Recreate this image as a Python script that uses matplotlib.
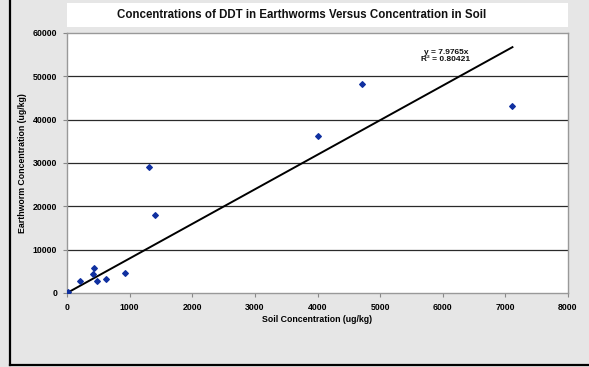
import matplotlib
matplotlib.use("Agg")
import matplotlib.pyplot as plt
from matplotlib.lines import Line2D
from matplotlib.patches import Rectangle

# Data
soil = [15, 208, 437, 420, 484, 623, 932, 1406, 1310, 4010, 4708, 7113]
worm = [150, 2850, 5860, 4400, 2700, 3240, 4700, 18100, 29100, 36200, 48200, 43100]
slope = 7.9765
r2 = 0.80421
trend_x = [0, 7113]
x_ticks = [0, 1000, 2000, 3000, 4000, 5000, 6000, 7000, 8000]
y_ticks = [0, 10000, 20000, 30000, 40000, 50000, 60000]

plt.rcParams['font.family'] = ['Liberation Sans', 'DejaVu Sans']

fig = plt.figure(figsize=(5.89, 3.67), dpi=100)
fig.patch.set_facecolor('#e6e6e6')

# black frame lines (left and bottom)
fig.add_artist(Line2D([9.5/589, 9.5/589], [2/367, 1.0], transform=fig.transFigure, color='black', lw=1.6))
fig.add_artist(Line2D([9.5/589, 1.0], [2/367, 2/367], transform=fig.transFigure, color='black', lw=1.6))

# title box
fig.add_artist(Rectangle((67/589, (367-27)/367), (568-67)/589, 24/367,
                         transform=fig.transFigure, facecolor='white', edgecolor='none'))
fig.text((118+486)/2/589, (367-15)/367, 'Concentrations of DDT in Earthworms Versus Concentration in Soil',
         ha='center', va='center', fontsize=8.3, fontweight='bold', color='#111111')

ax = fig.add_axes([67/589, (367-293)/367, (568-67)/589, (293-33)/367])
ax.set_facecolor('white')
ax.set_xlim(0, 8000)
ax.set_ylim(0, 60000)
ax.set_xticks(x_ticks)
ax.set_yticks(y_ticks)
ax.tick_params(labelsize=6.3, length=3, width=0.8, color='#888888', direction='out', pad=4)
for lab in ax.get_xticklabels() + ax.get_yticklabels():
    lab.set_fontweight('bold')
for s in ax.spines.values():
    s.set_color('#999999')
    s.set_linewidth(1.0)

for yv in y_ticks[1:-1]:
    ax.axhline(yv, color='#2a2a2a', lw=0.9, zorder=1)

ax.plot(trend_x, [slope * v for v in trend_x], color='black', lw=1.4, zorder=2)
ax.scatter(soil, worm, marker='D', s=8, color='#1030a0', zorder=3)

ax.text(6050, 54700, 'y = 7.9765x\nR² = 0.80421', ha='center', va='center',
        fontsize=6, fontweight='bold', color='#111111', linespacing=1.1)

ax.set_xlabel('Soil Concentration (ug/kg)', fontsize=6.3, fontweight='bold', labelpad=2)
ax.set_ylabel('Earthworm Concentration (ug/kg)', fontsize=6.3, fontweight='bold', labelpad=4)

fig.savefig('out.png', dpi=100, facecolor=fig.get_facecolor())
